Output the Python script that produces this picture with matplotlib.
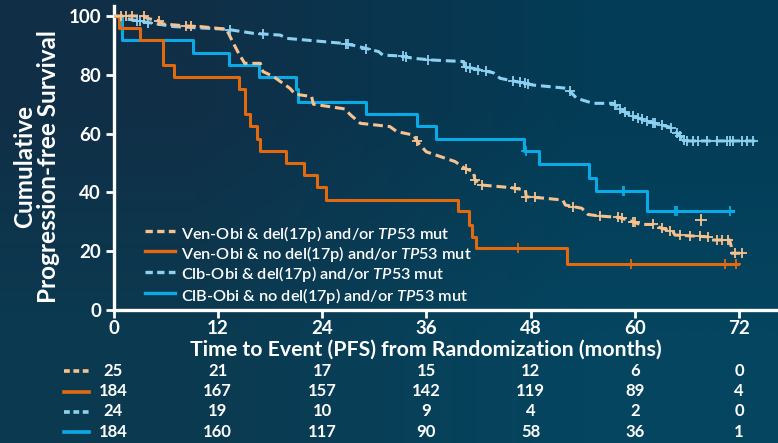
import numpy as np
import matplotlib
matplotlib.use("Agg")
import matplotlib.pyplot as plt
from matplotlib.lines import Line2D
from matplotlib.transforms import blended_transform_factory

plt.rcParams['font.family'] = ['Lato', 'DejaVu Sans']
plt.rcParams['mathtext.fontset'] = 'custom'
plt.rcParams['mathtext.rm'] = 'Lato:semibold'
plt.rcParams['mathtext.it'] = 'Lato:italic:semibold'
plt.rcParams['mathtext.bf'] = 'Lato:bold'

# ---------------- data ----------------
labels = ["Ven-Obi & del(17p) and/or $\\mathit{TP53}$ mut",
          "Ven-Obi & no del(17p) and/or $\\mathit{TP53}$ mut",
          "Clb-Obi & del(17p) and/or $\\mathit{TP53}$ mut",
          "ClB-Obi & no del(17p) and/or $\\mathit{TP53}$ mut"]

# Ven-Obi & del(17p) (dashed peach)
ven_del_t = [0, 3.4, 3.9, 5.1, 5.7, 8.4, 10.0, 13.0, 13.8, 14.4, 15.1, 16.9, 17.2, 18.4, 19.5,
             20.3, 20.9, 22.8, 23.0, 25.7, 26.6, 27.3, 28.4, 31.8, 32.6, 34.5, 35.1, 36.0, 37.6,
             39.3, 40.4, 41.4, 41.6, 42.4, 45.8, 47.4, 47.5, 49.7, 51.7, 52.0, 53.9, 54.6, 55.8,
             58.1, 59.2, 59.8, 60.6, 62.1, 62.9, 64.4, 64.6, 68.4, 68.6, 70.9, 71.1, 71.15, 72.4]
ven_del_s = [100, 100, 99.2, 98.4, 97.3, 96.6, 96.4, 95.5, 90.7, 87.3, 83.9, 83.9, 81.1, 79.4, 77.1,
             75.4, 73.4, 72.6, 70.0, 68.8, 68.4, 66.3, 63.5, 62.4, 60.7, 59.5, 56.7, 53.8, 52.2,
             50.5, 48.2, 47.1, 44.2, 42.5, 41.6, 40.8, 38.5, 38.0, 37.4, 35.7, 34.6, 32.5, 32.0,
             31.5, 30.6, 30.0, 29.1, 29.1, 28.0, 26.6, 25.5, 24.9, 23.8, 23.8, 21.5, 19.3, 19.3]
ven_del_cens = [0.9, 1.4, 2.1, 3.5, 5.2, 8.4, 8.9, 34.9, 40.6, 41.6, 42.4, 46.2, 47.5, 48.5, 52.9,
                56.0, 58.1, 58.5, 59.8, 60.0, 62.1, 63.1, 64.0, 65.2, 66.3, 67.5, 68.4, 69.4, 70.0,
                70.7, 71.5, 72.3]
ven_del_extra_t = [67.6]
ven_del_extra_s = [30.6]

# Ven-Obi & no del(17p) (solid orange)
ven_nodel_t = [0, 0.6, 3.05, 5.66, 5.75, 6.96, 14.48, 15.13, 15.71, 16.48, 16.86, 19.85, 21.92,
               23.38, 24.45, 39.6, 40.95, 41.3, 41.7, 52.2, 71.9]
ven_nodel_s = [100, 95.8, 91.7, 87.5, 83.3, 79.2, 75.0, 66.7, 62.5, 58.3, 54.2, 50.0, 45.8,
               41.7, 37.5, 33.8, 28.9, 24.9, 21.0, 15.8, 15.8]
ven_nodel_cens = [46.6, 59.5, 70.4, 71.6]

# Clb-Obi & del(17p) (dashed light blue)
clb_del_t = [0, 0.2, 1.1, 2.7, 5.0, 6.9, 13.0, 16.1, 19.2, 19.9, 26.4, 27.8, 30.5, 31.0, 33.0,
             34.5, 36.8, 40.3, 40.4, 43.7, 44.5, 48.3, 52.2, 53.3, 55.2, 57.5, 58.5, 59.1, 60.0,
             61.0, 62.3, 63.9, 64.5, 65.0, 65.6, 66.0, 74.2]
clb_del_s = [100, 100, 99.2, 98.4, 97.3, 96.4, 95.5, 94.1, 93.5, 92.4, 90.7, 89.9, 87.9, 86.7, 86.4,
             85.6, 85.0, 84.5, 82.8, 80.7, 78.8, 76.5, 75.4, 72.0, 70.3, 70.3, 68.0, 66.8, 65.8,
             64.6, 63.5, 62.3, 61.2, 59.8, 57.8, 57.5, 57.5]
clb_del_cens = [2.7, 3.05, 4.0, 13.4, 17.2, 26.8, 27.0, 29.1, 33.3, 33.7, 36.2, 40.6, 41.0, 42.0,
                42.9, 46.0, 46.8, 47.4, 47.7, 52.5, 57.7, 58.3, 58.9, 59.8, 60.4, 60.8, 61.4, 62.1,
                62.3, 63.1, 64.2, 64.8, 65.2, 65.6, 66.0, 66.7, 67.3, 68.3, 69.4, 70.6, 71.0, 71.3,
                72.3, 72.9, 73.6]

# ClB-Obi & no del(17p) (solid blue)
clb_nodel_t = [0, 0.94, 9.11, 13.33, 16.78, 21.0, 21.2, 29.1, 34.96, 37.1, 47.2, 49.0, 54.75,
               55.5, 61.35, 71.3]
clb_nodel_s = [100, 91.7, 87.5, 83.3, 79.2, 75.0, 70.8, 66.7, 62.5, 58.3, 54.1, 49.5, 45.0,
               40.6, 33.8, 33.8]
clb_nodel_cens = [47.5, 58.6, 58.8, 64.6, 64.8, 70.9]

risk_times = [0, 12, 24, 36, 48, 60, 72]
risk_ven_del = [25, 21, 17, 15, 12, 6, 0]
risk_ven_nodel = [184, 167, 157, 142, 119, 89, 4]
risk_clb_del = [24, 19, 10, 9, 4, 2, 0]
risk_clb_nodel = [184, 160, 117, 90, 58, 36, 1]

xticks = [0, 12, 24, 36, 48, 60, 72]
yticks = [0, 20, 40, 60, 80, 100]
xlabel = "Time to Event (PFS) from Randomization (months)"
ylabel = "Cumulative\nProgression-free Survival"

# ---------------- style ----------------
C_PEACH = '#F6C28F'
C_ORANGE = '#E2690E'
C_LBLUE = '#8DD1F2'
C_BLUE = '#0AAAE6'
WHITE = '#FFFFFF'

W, H = 778, 443
fig = plt.figure(figsize=(W / 100, H / 100), dpi=100)

# background gradient
bg = fig.add_axes([0, 0, 1, 1], zorder=-10)
corners = np.array([[[0x10, 0x2F, 0x47], [0x03, 0x3C, 0x56]],
                    [[0x0B, 0x3A, 0x50], [0x05, 0x45, 0x60]]]) / 255.0
bg.imshow(corners, extent=[0, 1, 0, 1], aspect='auto', interpolation='bilinear')
bg.set_axis_off()

ax = fig.add_axes([113.5 / W, 1 - 310 / H, (W - 113.5) / W, (310 - 6) / H])
ax.set_facecolor('none')
ax.set_xlim(0, 76.47)
ax.set_ylim(0, 103.4)

dash = (3.2, 1.6)

def step_val(t, s, c):
    t = np.asarray(t); s = np.asarray(s)
    idx = np.searchsorted(t, c, side='right') - 1
    return s[idx]

# curves
ax.plot(clb_del_t, clb_del_s, color=C_LBLUE, lw=2.2, dashes=dash, zorder=3)
ax.plot(clb_del_cens, np.interp(clb_del_cens, clb_del_t, clb_del_s), ls='none', marker='+',
        ms=7, mew=1.3, color=C_LBLUE, zorder=4)

ax.plot(clb_nodel_t, clb_nodel_s, color=C_BLUE, lw=2.2, drawstyle='steps-post', zorder=3)
ax.plot(clb_nodel_cens, step_val(clb_nodel_t, clb_nodel_s, clb_nodel_cens), ls='none', marker='+',
        ms=7, mew=1.3, color=C_BLUE, zorder=4)

ax.plot(ven_nodel_t, ven_nodel_s, color=C_ORANGE, lw=2.2, drawstyle='steps-post', zorder=3)
ax.plot(ven_nodel_cens, step_val(ven_nodel_t, ven_nodel_s, ven_nodel_cens), ls='none', marker='+',
        ms=7, mew=1.3, color=C_ORANGE, zorder=4)

ax.plot(ven_del_t, ven_del_s, color=C_PEACH, lw=2.2, dashes=dash, zorder=3)
ax.plot(ven_del_cens, np.interp(ven_del_cens, ven_del_t, ven_del_s), ls='none', marker='+',
        ms=7, mew=1.3, color=C_PEACH, zorder=4)
ax.plot(ven_del_extra_t, ven_del_extra_s, ls='none', marker='+', ms=8, mew=1.3, color=C_PEACH, zorder=4)

# axes styling
for sp in ['top', 'right']:
    ax.spines[sp].set_visible(False)
for sp in ['left', 'bottom']:
    ax.spines[sp].set_color(WHITE)
    ax.spines[sp].set_linewidth(2.4)
ax.set_xticks(xticks)
ax.set_yticks(yticks)
ax.tick_params(axis='both', colors=WHITE, length=5.5, width=2, direction='out')
ax.tick_params(axis='y', pad=3.5)
ax.tick_params(axis='x', pad=2.0)
for lab in ax.get_xticklabels() + ax.get_yticklabels():
    lab.set_fontsize(13.5)
    lab.set_fontweight('bold')
    lab.set_color(WHITE)

fig.text(37 / W, 1 - 167 / H, ylabel, rotation=90, ha='center', va='center', color=WHITE,
         fontsize=17.5, fontweight='bold', linespacing=1.05, multialignment='center')
fig.text(426 / W, 1 - 350 / H, xlabel, ha='center', va='center', color=WHITE,
         fontsize=15.3, fontweight='bold')

# legend (drawn row by row)
leg_styles = [(C_PEACH, True), (C_ORANGE, False), (C_LBLUE, True), (C_BLUE, False)]
leg_y = [231, 251, 272, 293]
for (col, dashed), lab, yy in zip(leg_styles, labels, leg_y):
    yf = 1 - yy / H
    fig.add_artist(Line2D([145 / W, 175 / W], [yf, yf], transform=fig.transFigure, color=col,
                          lw=2.4, dashes=(2.2, 1.3) if dashed else (None, None)))
    fig.text(181 / W, yf, lab, ha='left', va='center_baseline', color=WHITE, fontsize=11.7,
             fontweight='semibold')

# numbers at risk table
tr = blended_transform_factory(ax.transData, fig.transFigure)
rows = [(risk_ven_del, C_PEACH, True), (risk_ven_nodel, C_ORANGE, False),
        (risk_clb_del, C_LBLUE, True), (risk_clb_nodel, C_BLUE, False)]
row_y = [371, 391.5, 411.5, 432]
for (vals, col, dashed), yy in zip(rows, row_y):
    yf = 1 - yy / H
    fig.add_artist(Line2D([63.5 / W, 89 / W], [yf, yf], transform=fig.transFigure, color=col,
                          lw=2.6, dashes=(1.6, 1.0) if dashed else (None, None)))
    for tx, v in zip(risk_times, vals):
        fig.text(tx, yf, str(v), transform=tr, ha='center', va='center', color=WHITE,
                 fontsize=12, fontweight='bold')

fig.savefig('out.png', dpi=100)
